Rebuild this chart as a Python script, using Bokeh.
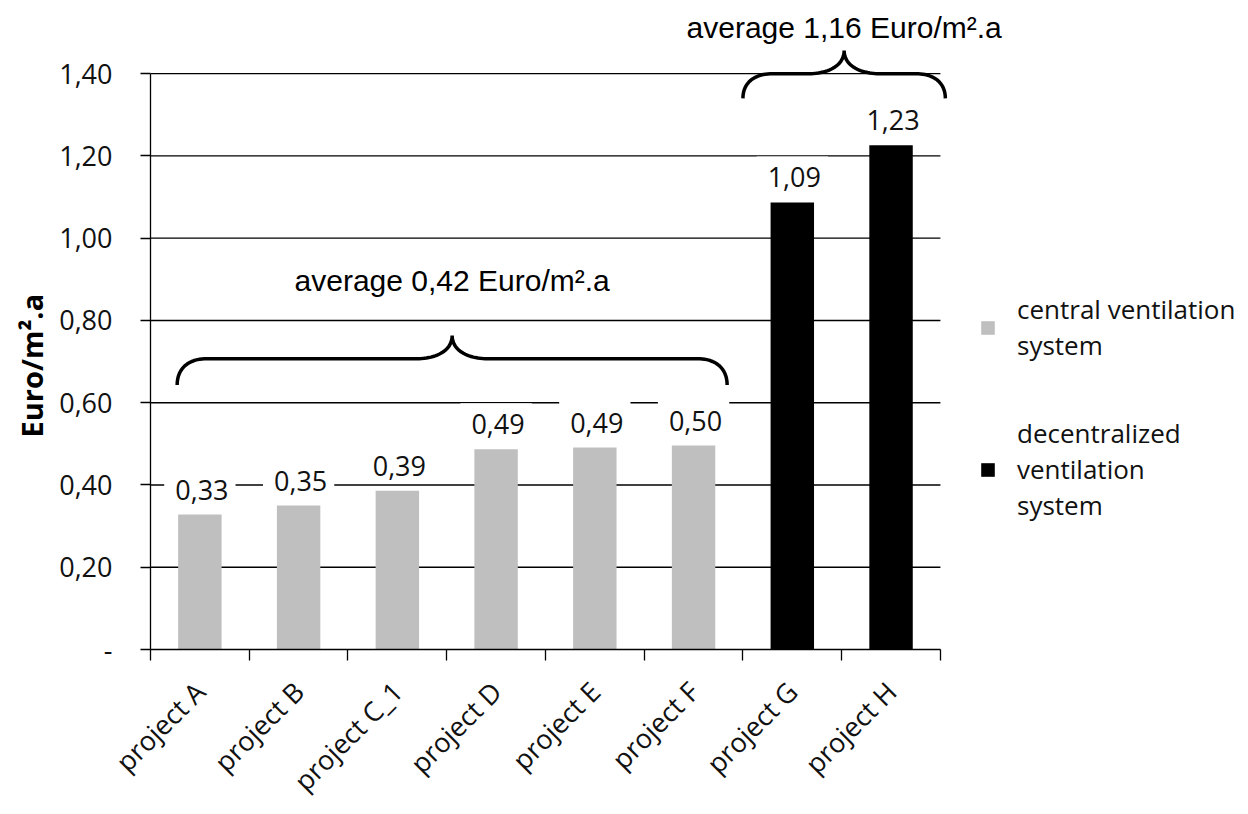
import math
import numpy as np
from bokeh.plotting import figure
from bokeh.models import (ColumnDataSource, Range1d, FixedTicker, Label, Title,
                          Legend, LegendItem, CDSView, GroupFilter)
from bokeh.embed import file_html
from bokeh.resources import INLINE

# ---------------- data ----------------
projects = ["project A", "project B", "project C_1", "project D",
            "project E", "project F", "project G", "project H"]
costs = [0.328, 0.350, 0.386, 0.487, 0.491, 0.496, 1.087, 1.226]
systems = ["central"] * 6 + ["decentralized"] * 2
system_names = {"central": "central ventilation\nsystem",
                "decentralized": "decentralized\nventilation\nsystem"}
y_ticks = [0, 0.2, 0.4, 0.6, 0.8, 1.0, 1.2, 1.4]
y_tick_labels = ["-", "0,20", "0,40", "0,60", "0,80", "1,00", "1,20", "1,40"]
y_title = "Euro/m².a"


def fmt(v):
    return f"{v:.2f}".replace(".", ",")


# ---------------- style ----------------
GREY = "#BFBFBF"
BLACK = "#000000"
TXT = "#111111"
NUM_FONT = "Open Sans"
ANN_FONT = "Liberation Sans"
BAR_W = 0.44

n = len(projects)
xc = np.arange(n) + 0.5
src = ColumnDataSource(dict(x=xc, cost=costs, system=systems,
                            label=[fmt(v) for v in costs]))

p = figure(width=1246, height=814, output_backend="svg", toolbar_location=None,
           x_range=Range1d(0, 11.10), y_range=Range1d(0, 1.578),
           min_border_left=150, min_border_right=0, min_border_top=0,
           min_border_bottom=150)
p.outline_line_color = None
p.xgrid.visible = False
p.ygrid.visible = False
p.background_fill_color = "white"
p.border_fill_color = "white"

# grid lines restricted to the category span
gy = [t for t in y_ticks if t > 0]
p.segment(x0=[0] * len(gy), x1=[n] * len(gy), y0=gy, y1=gy,
          line_color=BLACK, line_width=1.3, level="underlay")

# bars
renderers = {}
for key, col in (("central", GREY), ("decentralized", BLACK)):
    renderers[key] = p.vbar(x="x", top="cost", width=BAR_W, source=src,
                            view=CDSView(filter=GroupFilter(column_name="system", group=key)),
                            fill_color=col, line_color=None)

# data labels (white boxes interrupt the grid lines)
for xv, cv in zip(xc, costs):
    kw = dict(x=float(xv), y=cv, text=fmt(cv), y_offset=27,
              text_align="center", text_baseline="middle",
              text_font=NUM_FONT, text_font_size="27px",
              text_color=TXT, background_fill_color="white")
    try:
        lab = Label(padding=(11, 7, 11, 7), **kw)
    except Exception:
        lab = Label(**kw)
    p.add_layout(lab)

# axes
xa = p.xaxis[0]
xa.ticker = FixedTicker(ticks=list(xc), minor_ticks=list(range(n + 1)))
xa.major_label_overrides = {float(x): name for x, name in zip(xc, projects)}
xa.bounds = (0, n)
xa.major_tick_out = 0
xa.major_tick_in = 0
xa.minor_tick_out = 11
xa.minor_tick_in = 0
xa.minor_tick_line_color = BLACK
xa.minor_tick_line_width = 1.3
xa.axis_line_color = BLACK
xa.axis_line_width = 1.3
xa.major_label_orientation = math.pi / 4
xa.major_label_text_font = NUM_FONT
xa.major_label_text_font_size = "27px"
xa.major_label_text_color = TXT
xa.major_label_standoff = 26
xa.axis_label_standoff = 0

ya = p.yaxis[0]
ya.ticker = FixedTicker(ticks=y_ticks)
ya.major_label_overrides = dict(zip(y_ticks, y_tick_labels))
ya.bounds = (0, y_ticks[-1])
ya.major_tick_out = 10
ya.major_tick_in = 0
ya.minor_tick_out = 0
ya.minor_tick_in = 0
ya.major_tick_line_color = BLACK
ya.major_tick_line_width = 1.3
ya.axis_line_color = BLACK
ya.axis_line_width = 1.3
ya.major_label_text_font = NUM_FONT
ya.major_label_text_font_size = "27px"
ya.major_label_text_color = TXT
ya.major_label_standoff = 28

# y title, shifted up from the frame bottom so it sits by the tick span
p.add_layout(Title(text=y_title, align="left", offset=212, standoff=12,
                   text_font=NUM_FONT, text_font_size="29px",
                   text_font_style="bold", text_color=BLACK), "left")


# braces with average labels
def bez(p0, p1, p2, p3, m=24):
    t = np.linspace(0, 1, m)[:, None]
    pts = ((1 - t) ** 3) * np.array(p0) + 3 * ((1 - t) ** 2) * t * np.array(p1) \
        + 3 * (1 - t) * t ** 2 * np.array(p2) + t ** 3 * np.array(p3)
    return pts


def brace(xa_, xb_, yb, yh, yt, rx, rt):
    xm = (xa_ + xb_) / 2
    left_hook = bez((xa_, yb), (xa_, yb + 0.6 * (yh - yb)), (xa_ + 0.35 * rx, yh), (xa_ + rx, yh))
    left_tip = bez((xm - rt, yh), (xm - 0.45 * rt, yh), (xm, yh + 0.35 * (yt - yh)), (xm, yt))
    right_tip = bez((xm, yt), (xm, yh + 0.35 * (yt - yh)), (xm + 0.45 * rt, yh), (xm + rt, yh))
    right_hook = bez((xb_ - rx, yh), (xb_ - 0.35 * rx, yh), (xb_, yb + 0.6 * (yh - yb)), (xb_, yb))
    pts = np.vstack([left_hook, left_tip, right_tip, right_hook])
    return list(pts[:, 0]), list(pts[:, 1])


groups = [("central", (0.27, 5.84), (0.643, 0.707, 0.763), 0.898),
          ("decentralized", (6.0, 8.05), (1.340, 1.400, 1.456), 1.512)]
for key, (x0, x1), (yb, yh, yt), ylab in groups:
    bx, by = brace(x0, x1, yb, yh, yt, 0.30, 0.36)
    p.line(bx, by, line_color=BLACK, line_width=3.5)
    vals = [c for c, s in zip(costs, systems) if s == key]
    avg = sum(vals) / len(vals)
    p.add_layout(Label(x=(x0 + x1) / 2, y=ylab, text=f"average {fmt(avg)} Euro/m².a",
                       text_align="center", text_baseline="middle",
                       text_font=ANN_FONT, text_font_size="30px",
                       text_color=BLACK))

# legend
legend = Legend(items=[LegendItem(label=system_names[k], renderers=[renderers[k]])
                       for k in ("central", "decentralized")],
                location=(829, 126), glyph_width=17, glyph_height=17,
                label_text_font=NUM_FONT, label_text_font_size="26px",
                label_text_color=TXT, label_text_line_height=1.21,
                label_standoff=21, spacing=52, padding=0, margin=0,
                border_line_color=None, background_fill_alpha=0)
p.add_layout(legend)

open("out.html", "w").write(file_html(p, INLINE))
